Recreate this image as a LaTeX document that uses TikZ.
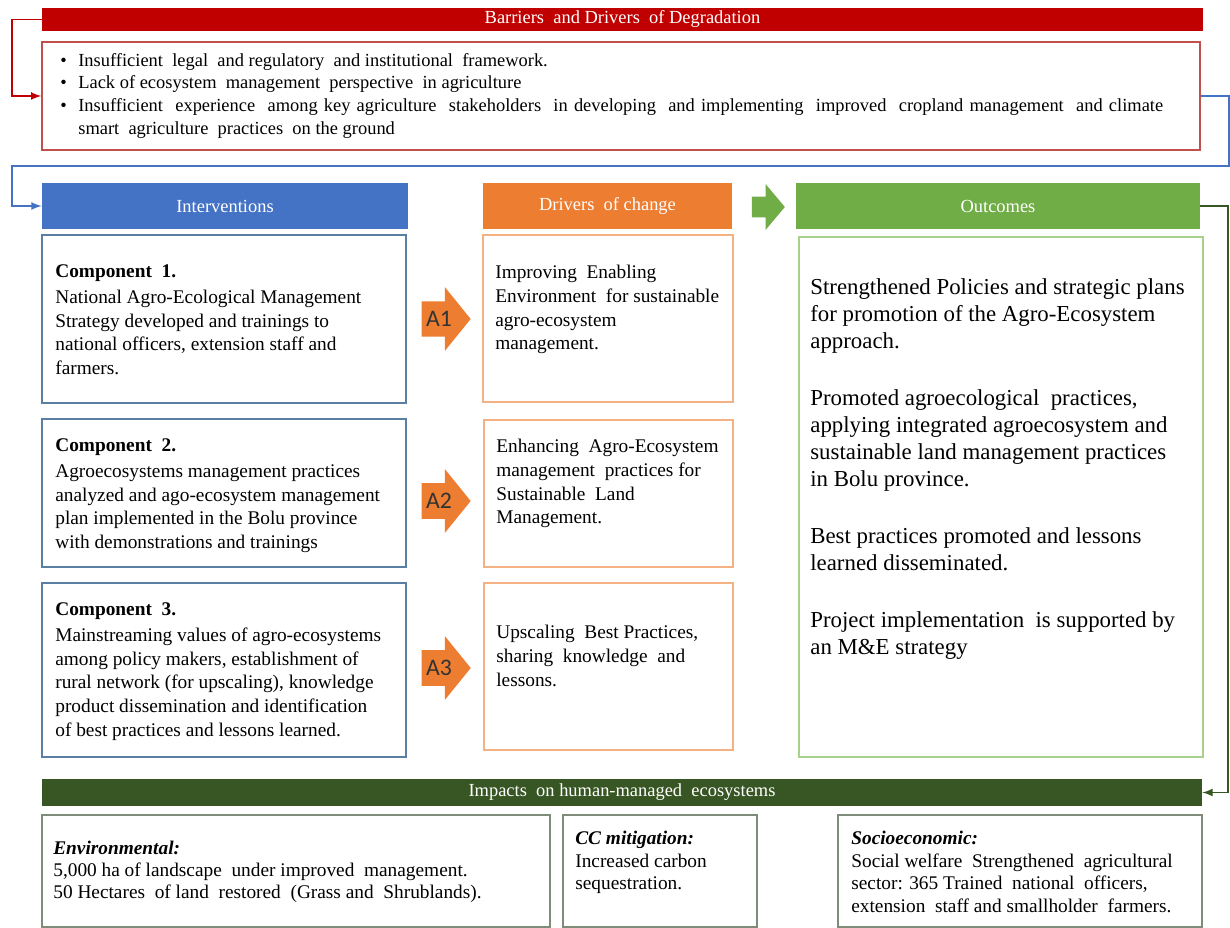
\documentclass[tikz,border=0pt]{standalone}
\usepackage{fontspec}
\setmainfont{Liberation Serif}
\newfontfamily\calib{Carlito}
\usetikzlibrary{shapes,arrows,positioning,calc,fit}
\definecolor{barred}{HTML}{C00000}
\definecolor{barline}{HTML}{C0504D}
\definecolor{intblue}{HTML}{4472C4}
\definecolor{intline}{HTML}{5B7FA3}
\definecolor{drvorange}{HTML}{ED7D31}
\definecolor{drvline}{HTML}{F4B183}
\definecolor{outgreen}{HTML}{70AD47}
\definecolor{outline}{HTML}{A9D18E}
\definecolor{impgreen}{HTML}{375623}
\definecolor{impline}{HTML}{7F8C7A}

\begin{document}
\begin{tikzpicture}
   [x=0.02cm,y=-0.02cm,
      hd/.style={inner sep=0pt},
      hdtxt/.style={inner sep=0pt,text=white,font=\fontsize{10.5}{12}\selectfont},
      box/.style={draw,inner sep=0pt,line width=.8pt},
      txt/.style={anchor=north west,inner sep=0pt,align=left,
      font=\fontsize{11}{13.5}\selectfont},
      big/.style={txt,font=\fontsize{13}{15.4}\selectfont},
      imptxt/.style={txt,font=\fontsize{11}{12.8}\selectfont},
      aarrow/.style={single arrow,fill=drvorange,minimum height=.98cm,
      minimum width=1.28cm,single arrow tip angle=102,inner xsep=1pt,
      inner ysep=4.3pt,font=\calib\fontsize{13.5}{14}\selectfont,text=black!80},
      link/.style={line width=1pt,>=latex,->}]
\useasboundingbox (0,0) rectangle (1230,928);
%%
%% barriers
\node (barhd) [hd,fill=barred,fit={(42,8) (1203,31)}] {};
\node (barlbl) [hdtxt] at (barhd.center) {Barriers\ \ and Drivers\ \ of Degradation};
\node (barbox) [box,draw=barline,fit={(42,42) (1200,150)}] {};
\node (bartxt) [txt,font=\fontsize{10.5}{12.9}\selectfont,text width=22.06cm,
align=justify] at (60,53) {%
\hangindent=.36cm\hangafter=1\makebox[.36cm][l]{\textbullet}Insufficient\ \ legal\ \ and regulatory\ \ and institutional\ \ framework.\par
\hangindent=.36cm\hangafter=1\makebox[.36cm][l]{\textbullet}Lack of ecosystem\ \ management\ \ perspective\ \ in agriculture\par
\hangindent=.36cm\hangafter=1\makebox[.36cm][l]{\textbullet}Insufficient\ \ experience\ \ among key agriculture\ \ stakeholders\ \ in developing\ \ and implementing\ \ improved\ \ cropland management\ \ and climate\linebreak
smart\ \ agriculture\ \ practices\ \ on the ground\par};
%%
%% column headers
\node (intv) [hd,fill=intblue,fit={(42,183) (408,229)}] {};
\node (drv) [hd,fill=drvorange,fit={(483,183) (732,229)}] {};
\node (outc) [hd,fill=outgreen,fit={(796,183) (1200,229)}] {};
\node (intvlbl) [hdtxt] at (intv.center) {Interventions};
\node (drvlbl) [hdtxt] at (drv.center) {Drivers\ \ of change};
\node (outclbl) [hdtxt] at (outc.center) {Outcomes};
\node (flow) [single arrow,fill=outgreen,minimum height=.66cm,minimum width=.7cm,
single arrow tip angle=100,inner xsep=0pt,inner ysep=.2cm] at (764,207) {};
%%
%% components
\node (ca) [box,draw=intline,fit={(42,235) (406,403)}] {};
\node (cb) [box,draw=intline,fit={(42,419) (406,567)}] {};
\node (cc) [box,draw=intline,fit={(42,583) (406,757)}] {};
\node (catxt) [txt] at (55,264) {\textbf{Component\ \ 1.}\\[1.5pt]National Agro-Ecological Management\\
Strategy developed and trainings to\\national officers, extension staff and\\farmers.};
\node (cbtxt) [txt] at (55,438) {\textbf{Component\ \ 2.}\\[1.5pt]Agroecosystems management practices\\
analyzed and ago-ecosystem management\\plan implemented in the Bolu province\\with demonstrations and trainings};
\node (cctxt) [txt] at (55,602) {\textbf{Component\ \ 3.}\\[1.5pt]Mainstreaming values of agro-ecosystems\\
among policy makers, establishment of\\rural network (for upscaling), knowledge\\
product dissemination and identification\\of best practices and lessons learned.};
%%
%% drivers of change
\node (da) [box,draw=drvline,fit={(483,235) (733,402)}] {};
\node (db) [box,draw=drvline,fit={(484,420) (733,567)}] {};
\node (dc) [box,draw=drvline,fit={(484,583) (733,750)}] {};
\node (datxt) [txt] at (495,265) {Improving\ \ Enabling\\Environment\ \ for sustainable\\agro-ecosystem\\management.};
\node (dbtxt) [txt] at (496,439) {Enhancing\ \ Agro-Ecosystem\\management\ \ practices for\\Sustainable\ \ Land\\Management.};
\node (dctxt) [txt] at (496,625) {Upscaling\ \ Best Practices,\\sharing\ \ knowledge\ \ and\\lessons.};
%%
\node (aa) [aarrow] at (439,319) {A1};
\node (ab) [aarrow] at (439,501) {A2};
\node (ac) [aarrow] at (439,668) {A3};
%%
%% outcomes
\node (ob) [box,draw=outline,fit={(799,237) (1203,757)}] {};
\node (obtxt) [big] at (810,278) {Strengthened Policies and strategic plans\\for promotion of the Agro-Ecosystem\\approach.\\[17pt]
Promoted agroecological\ \ practices,\\applying integrated agroecosystem and\\sustainable land management practices\\in Bolu province.\\[17pt]
Best practices promoted and lessons\\learned disseminated.\\[17pt]
Project implementation\ \ is supported by\\an M\&E strategy};
%%
%% impacts
\node (imphd) [hd,fill=impgreen,fit={(42,779) (1202,806)}] {};
\node (implbl) [hdtxt] at (imphd.center) {Impacts\ \ on human-managed\ \ ecosystems};
\node (ia) [box,draw=impline,fit={(42,815) (550,927)}] {};
\node (ib) [box,draw=impline,fit={(563,815) (757,927)}] {};
\node (ic) [box,draw=impline,fit={(838,815) (1202,927)}] {};
\node (iatxt) [imptxt,font=\fontsize{11}{12.5}\selectfont] at (53,841) {\textbf{\textit{Environmental:}}\\5,000 ha of landscape\ \ under improved\ \ management.\\
50 Hectares\ \ of land\ \ restored\ \ (Grass and\ \ Shrublands).};
\node (ibtxt) [imptxt] at (575,831) {\textbf{\textit{CC mitigation:}}\\Increased carbon\\sequestration.};
\node (ictxt) [imptxt] at (851,831) {\textbf{\textit{Socioeconomic:}}\\Social welfare\ \ Strengthened\ \ agricultural\\
sector: 365 Trained\ \ national\ \ officers,\\extension\ \ staff and smallholder\ \ farmers.};
%%
%% connectors
\draw[link,barred] (barhd.west) -- ++(-30,0) |- (barbox.west);
\draw[link,intblue] (barbox.east) -- ++(28,0) |- ($(intv.west)+(-30,-40)$) |- (intv.west);
\draw[link,impgreen] (outc.east) -- ++(28,0) |- (imphd.east);
\end{tikzpicture}
\end{document}
